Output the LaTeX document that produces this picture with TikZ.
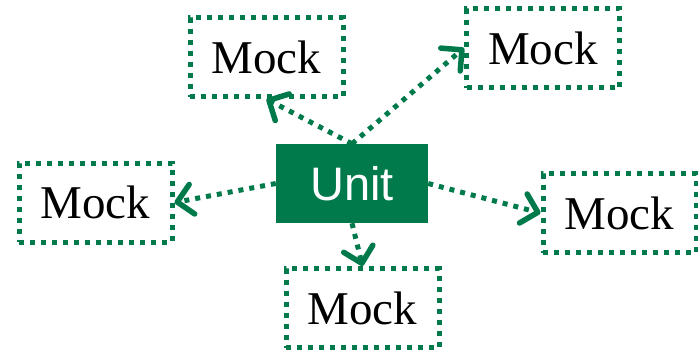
\documentclass[tikz,border=0pt]{standalone}
\usepackage{fontspec}
\setmainfont{Liberation Serif}
\setsansfont{Liberation Sans}
\usetikzlibrary{arrows.meta}
\definecolor{mgreen}{RGB}{0,122,75}
\begin{document}
\begin{tikzpicture}[x=1pt,y=-1pt,
  mockbox/.style={draw=mgreen, line width=5pt, dash pattern=on 5pt off 6pt,
    minimum width=153pt, minimum height=79pt, inner sep=0pt,
    font=\fontsize{47}{50}\selectfont, text=black},
  unitbox/.style={fill=mgreen, minimum width=152pt, minimum height=79pt, inner sep=0pt,
    font=\sffamily\fontsize{47}{50}\selectfont, text=white},
  link/.style={draw=mgreen, line width=5pt, dash pattern=on 5pt off 6pt,
    -{Straight Barb[length=15pt,width=30pt,line width=5.5pt,round]}}]
\useasboundingbox (0,0) rectangle (698,351);
\node[unitbox] (unit) at (352,183.5) {Unit};
\node[mockbox] (tl) at (266.5,57) {Mock};
\node[mockbox] (tr) at (543,48) {Mock};
\node[mockbox] (l) at (95.5,202.5) {Mock};
\node[mockbox] (r) at (619.5,213) {Mock};
\node[mockbox] (b) at (362.5,308) {Mock};
\draw[link] (unit.north) -- (tl.south);
\draw[link] (unit.north) -- (tr.west);
\draw[link] (unit.west) -- (l.east);
\draw[link] (unit.east) -- (r.west);
\draw[link] (unit.south) -- (b.north);
\end{tikzpicture}
\end{document}
